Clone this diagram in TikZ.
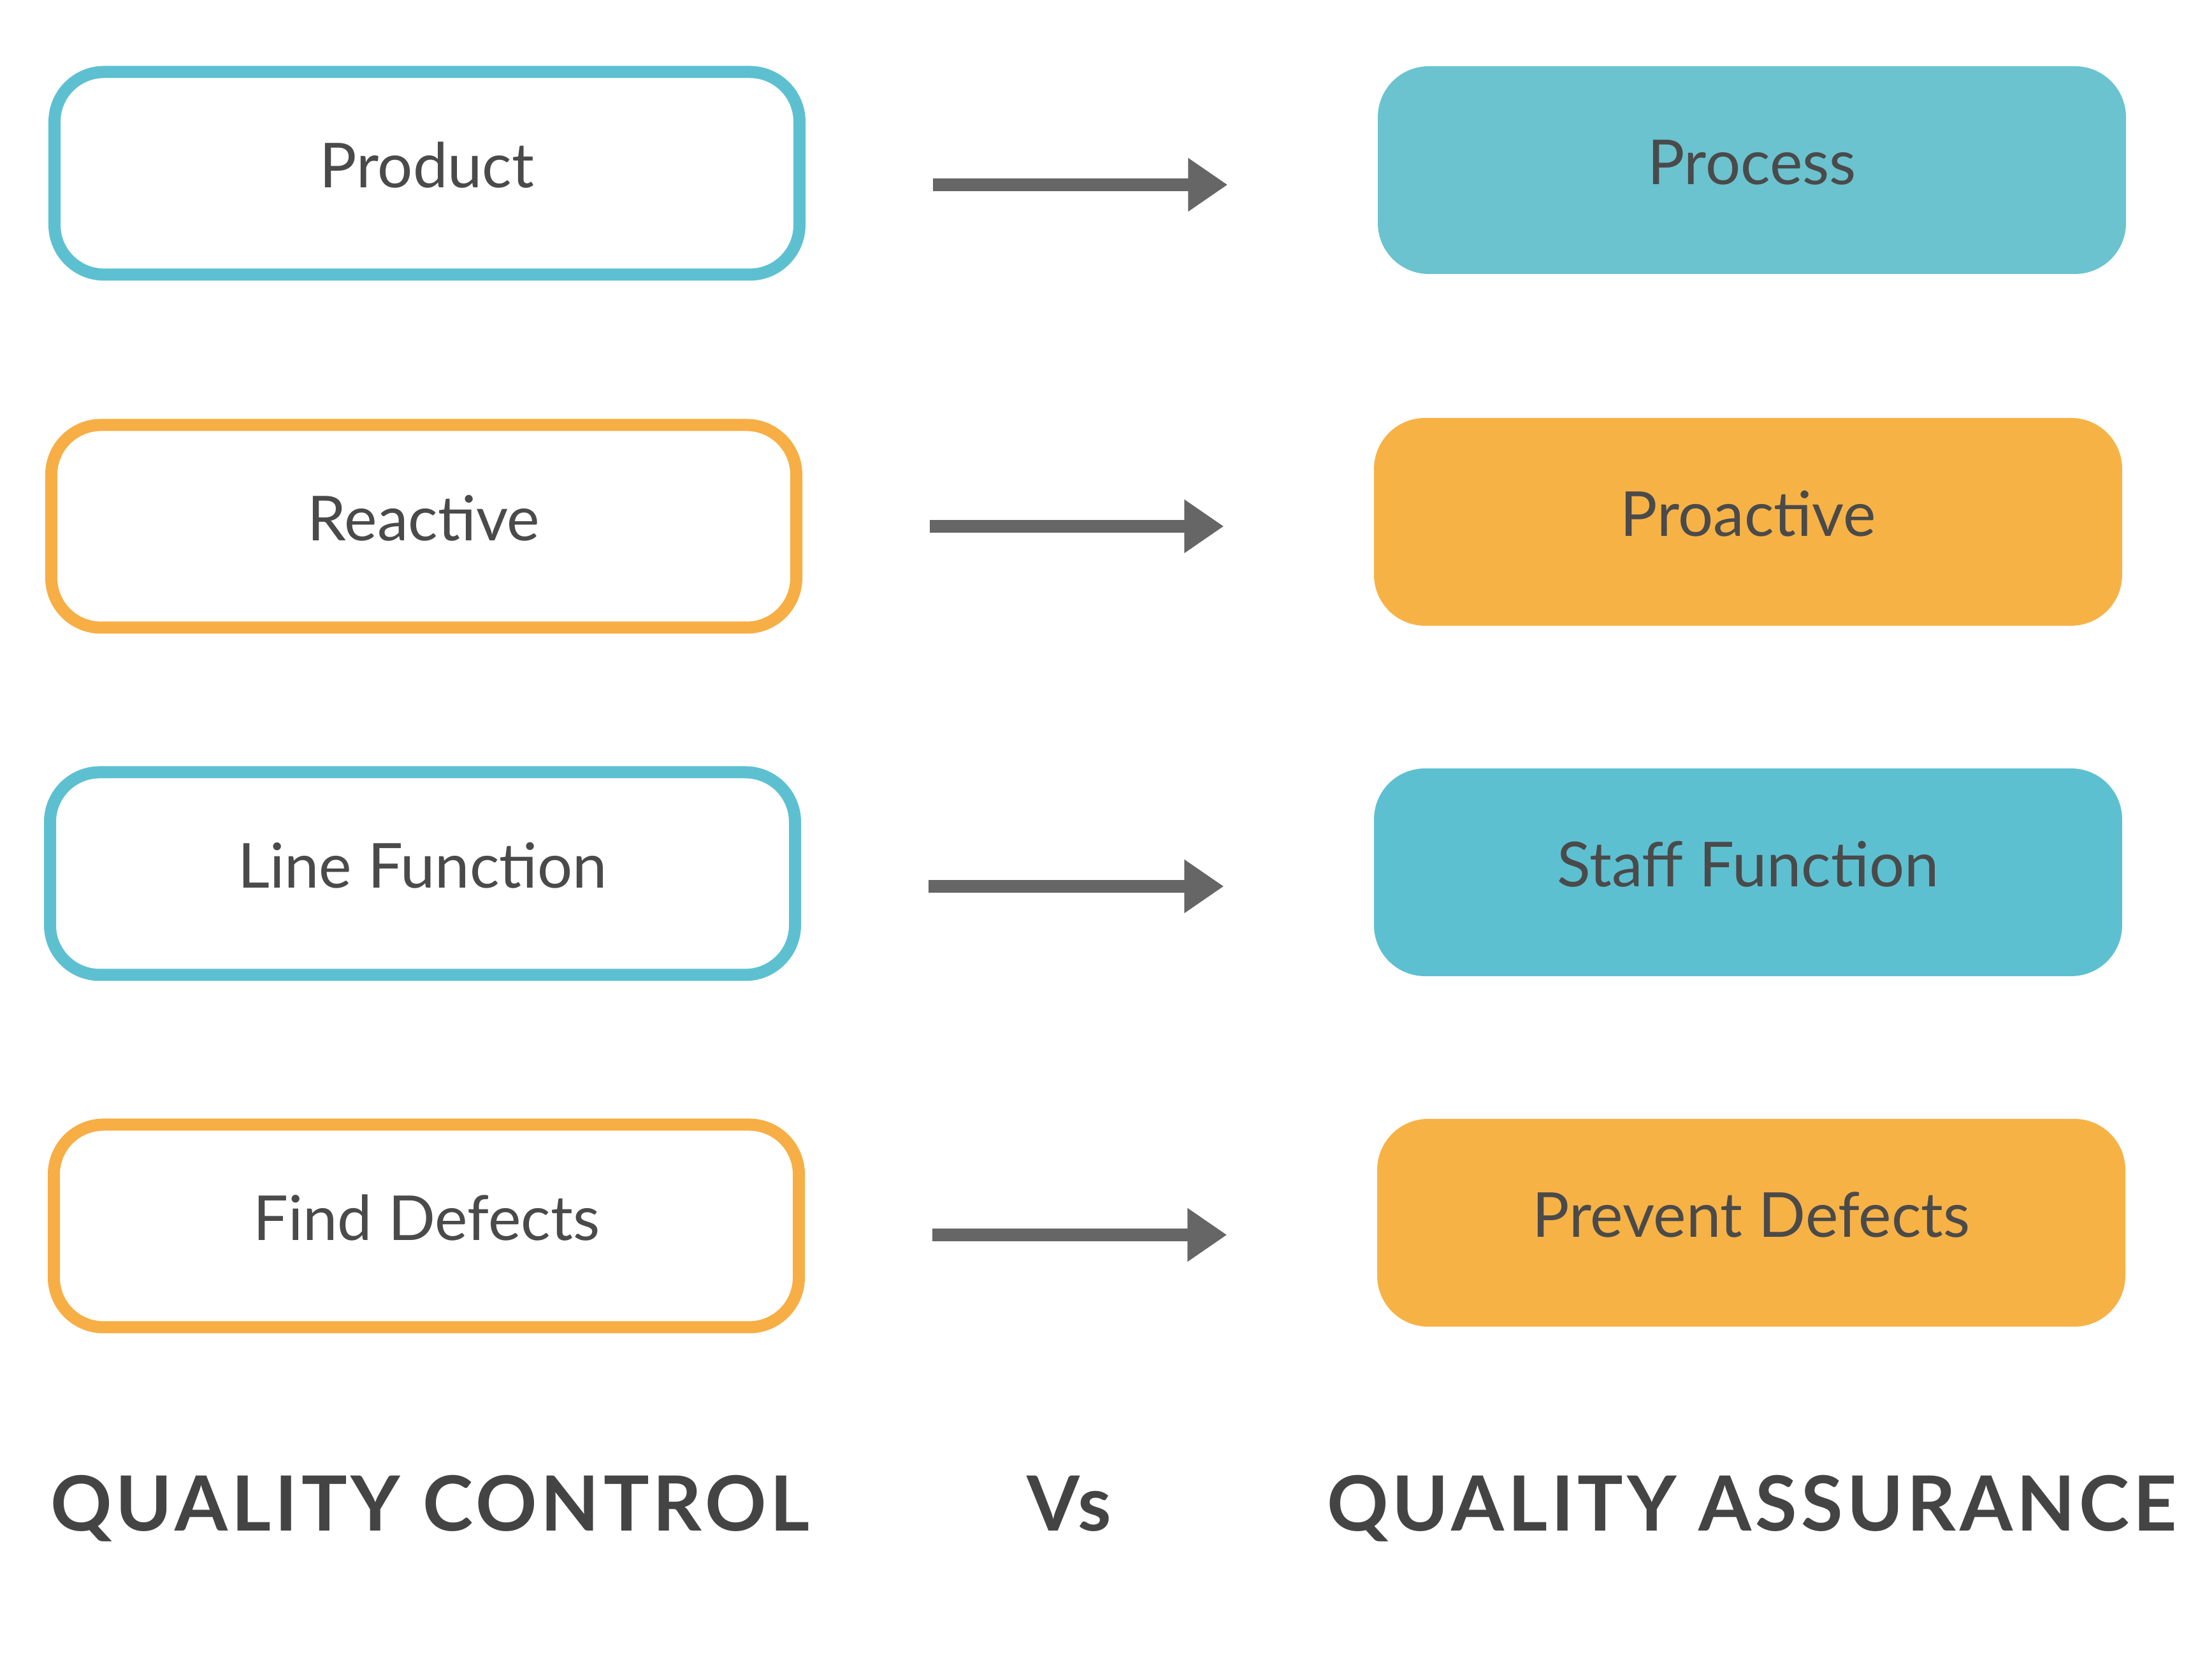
\documentclass[tikz,border=0pt]{standalone}
\usepackage{fontspec}
\setmainfont{Lato}
\usetikzlibrary{arrows.meta}
\definecolor{qcyan}{HTML}{5DC0D1}
\definecolor{qcyanfill}{HTML}{6AC3CF}
\definecolor{qorange}{HTML}{F6AE45}
\definecolor{qorangefill}{HTML}{F7B246}
\definecolor{qtext}{HTML}{4A4A4A}
\definecolor{qarrow}{HTML}{666666}
\definecolor{qtitle}{HTML}{444444}
\begin{document}
\begin{tikzpicture}[
    qcbox/.style={draw=#1, line width=0.19cm, rounded corners=0.78cm,
      minimum width=11.69cm, minimum height=3.18cm, text=qtext,
      text height=0.72cm, text depth=0.26cm,
      font=\fontsize{27.7}{30}\selectfont},
    qabox/.style={fill=#1, rounded corners=0.8cm,
      minimum width=11.74cm, minimum height=3.26cm, text=qtext,
      text height=0.72cm, text depth=0.26cm,
      font=\fontsize{27.7}{30}\selectfont},
    arr/.style={draw=qarrow, line width=0.2cm,
      -{Triangle[length=0.62cm, width=0.8cm]},
      shorten <=2cm, shorten >=2.35cm},
    title/.style={anchor=base, text=qtitle,
      font=\fontsize{34}{38}\selectfont\bfseries\addfontfeature{LetterSpace=5}}
  ]
    \useasboundingbox (0,0) rectangle (34.71,26.02);
    %% quality control
    \node[qcbox=qcyan] (qc1) at (6.70,23.30) {Product};
    \node[qcbox=qorange] (qc2) at (6.65,17.76) {Reactive};
    \node[qcbox=qcyan] (qc3) at (6.63,12.31) {Line Function};
    \node[qcbox=qorange] (qc4) at (6.69,6.78) {Find Defects};
    %% quality assurance
    \node[qabox=qcyanfill] (qa1) at (27.49,23.35) {Process};
    \node[qabox=qorangefill] (qa2) at (27.43,17.83) {Proactive};
    \node[qabox=qcyan] (qa3) at (27.43,12.33) {Staff Function};
    \node[qabox=qorangefill] (qa4) at (27.48,6.83) {Prevent Defects};
    %% arrows
    \draw[arr] ([yshift=-0.18cm]qc1.east) -- ([yshift=-0.18cm]qc1.east -| qa1.west);
    \draw[arr] (qc2.east) -- (qc2.east -| qa2.west);
    \draw[arr] ([yshift=-0.2cm]qc3.east) -- ([yshift=-0.2cm]qc3.east -| qa3.west);
    \draw[arr] ([yshift=-0.14cm]qc4.east) -- ([yshift=-0.14cm]qc4.east -| qa4.west);
    %% titles
    \node[title] (qctitle) at (6.75,1.99) {QUALITY CONTROL};
    \node[title] (vs) at (16.78,1.99) {Vs};
    \node[title] (qatitle) at (27.49,1.99) {QUALITY ASSURANCE};
\end{tikzpicture}
\end{document}
